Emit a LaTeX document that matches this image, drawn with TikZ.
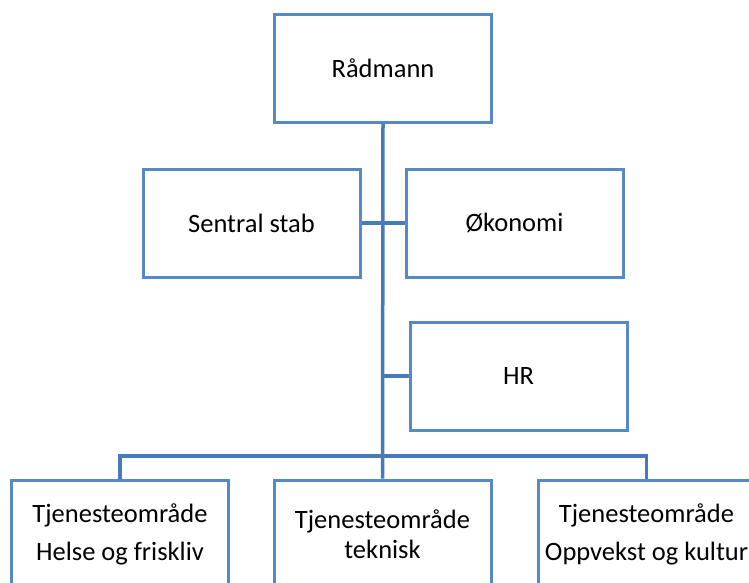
\documentclass[tikz,border=0pt]{standalone}
\usepackage{fontspec}
\setmainfont{Carlito}
\usetikzlibrary{positioning}
\definecolor{orgbox}{RGB}{86,138,199}
\definecolor{orgline}{RGB}{70,122,184}

\begin{document}
\begin{tikzpicture}[x=1pt,y=-1pt,every node/.style={font=\fontsize{26.5}{38}\selectfont},
      box/.style={draw=orgbox,line width=3pt,fill=white,minimum width=217pt,minimum height=108pt,align=center,inner sep=0pt},
      link/.style={draw=orgline,line width=3.5pt}]
    \clip (0,0) rectangle (749,582);
    % Top
    \node[box] (rad)  at (383,68)    {Rådmann};
    % Staff
    \node[box] (stab) at (251.5,223) {Sentral stab};
    \node[box] (oko)  at (514.5,223) {Økonomi};
    \node[box] (hr)   at (518.5,376) {HR};
    % Service areas
    \node[box] (helse) at (120,534)   {Tjenesteområde\\Helse og friskliv};
    \node[box,font=\fontsize{26.5}{30}\selectfont] (tek) at (382.5,534) {Tjenesteområde\\teknisk};
    \node[box] (opp)   at (646.5,534) {Tjenesteområde\\Oppvekst og kultur};
    \coordinate (hub) at (383,456);
    % Lines
    \draw[link] (rad.south) -- (tek.north);
    \draw[link] (stab.east) -- (oko.west);
    \draw[link] (hr.west) -- (hr.west -| rad.south);
    \draw[link] (helse.north) |- (hub) -| (opp.north);
  \end{tikzpicture}
\end{document}
